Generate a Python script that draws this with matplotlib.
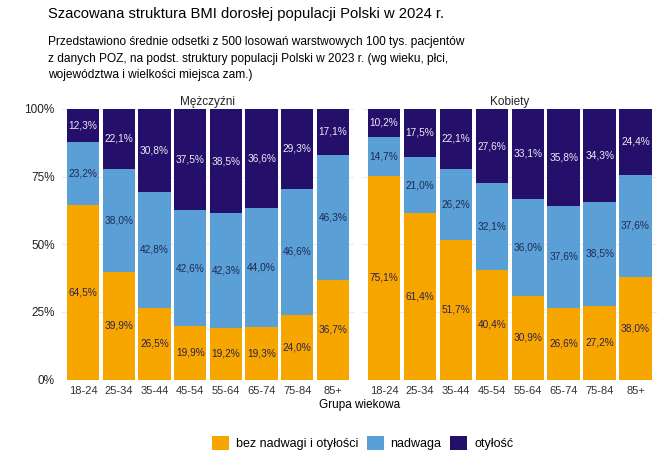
import matplotlib
matplotlib.use("Agg")
import matplotlib.pyplot as plt
from matplotlib.patches import Patch
import numpy as np

plt.rcParams['font.family'] = ['Liberation Sans', 'DejaVu Sans']

age_groups = ["18-24", "25-34", "35-44", "45-54", "55-64", "65-74", "75-84", "85+"]
panels = ["Mężczyźni", "Kobiety"]
categories = ["bez nadwagi i otyłości", "nadwaga", "otyłość"]

men_normal = [64.5, 39.9, 26.5, 19.9, 19.2, 19.3, 24.0, 36.7]
men_overweight = [23.2, 38.0, 42.8, 42.6, 42.3, 44.0, 46.6, 46.3]
men_obese = [12.3, 22.1, 30.8, 37.5, 38.5, 36.6, 29.3, 17.1]

women_normal = [75.1, 61.4, 51.7, 40.4, 30.9, 26.6, 27.2, 38.0]
women_overweight = [14.7, 21.0, 26.2, 32.1, 36.0, 37.6, 38.5, 37.6]
women_obese = [10.2, 17.5, 22.1, 27.6, 33.1, 35.8, 34.3, 24.4]

colors = ["#F7A600", "#5A9FD6", "#24106B"]
label_colors = ["#2B2250", "#1F2A55", "#EDEAF5"]

fig = plt.figure(figsize=(6.64, 4.69), dpi=100)

fig.text(0.072, 0.985, "Szacowana struktura BMI dorosłej populacji Polski w 2024 r.",
         fontsize=10.6, va="top", ha="left")
fig.text(0.072, 0.923,
         "Przedstawiono średnie odsetki z 500 losowań warstwowych 100 tys. pacjentów\n"
         "z danych POZ, na podst. struktury populacji Polski w 2023 r. (wg wieku, płci,\n"
         "województwa i wielkości miejsca zam.)",
         fontsize=8.6, va="top", ha="left", linespacing=1.5)

# panel positions (figure fraction)
boxes = [[0.0928, 0.1908, 0.4409, 0.5768], [0.546, 0.1908, 0.4435, 0.5768]]
data = [[men_normal, men_overweight, men_obese],
        [women_normal, women_overweight, women_obese]]

x = np.arange(len(age_groups))
for i, (box, series) in enumerate(zip(boxes, data)):
    ax = fig.add_axes(box)
    bottom = np.zeros(len(age_groups))
    for vals, c, lc in zip(series, colors, label_colors):
        vals = np.array(vals)
        ax.bar(x, vals, 0.9, bottom=bottom, color=c, linewidth=0, zorder=2)
        for xi, b, v in zip(x, bottom, vals):
            ax.text(xi, b + v / 2, f"{v:.1f}%".replace(".", ","), ha="center",
                    va="center", fontsize=7.3, color=lc, zorder=3)
        bottom = bottom + vals
    ax.set_xlim(-0.6, len(age_groups) - 0.4)
    ax.set_ylim(0, 100)
    ax.set_yticks([0, 25, 50, 75, 100])
    if i == 0:
        ax.set_yticklabels(["0%", "25%", "50%", "75%", "100%"], fontsize=8.5, color="#222222")
    else:
        ax.set_yticklabels([])
    ax.set_xticks(x)
    ax.set_xticklabels(age_groups, fontsize=8, color="#333333")
    ax.tick_params(length=0, pad=5)
    ax.grid(axis="y", color="#EBEBEB", linewidth=0.8, zorder=0)
    for s in ax.spines.values():
        s.set_visible(False)
    ax.set_title(panels[i], fontsize=8.5, pad=3, color="#222222")

fig.text(0.541, 0.137, "Grupa wiekowa", ha="center", va="center", fontsize=8.5)

handles = [Patch(facecolor=c, edgecolor="none") for c in colors]
fig.legend(handles, categories, loc="center", bbox_to_anchor=(0.546, 0.055), ncol=3,
           frameon=False, fontsize=9, handlelength=1.36, handleheight=1.36,
           columnspacing=0.7, handletextpad=0.55)

fig.savefig("out.png", dpi=100)
